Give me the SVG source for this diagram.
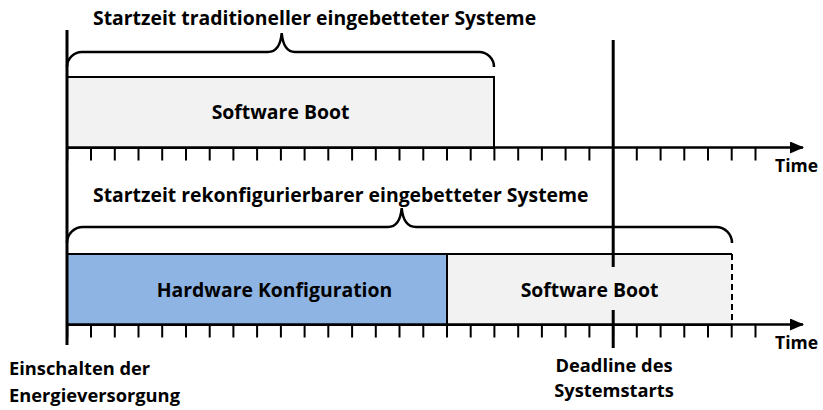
<svg xmlns="http://www.w3.org/2000/svg" width="823" height="410" viewBox="0 0 823 410">
  <defs>
    <style>
      .t { font-family: "Open Sans", Lato, "Liberation Sans", sans-serif; font-weight: bold; font-size: 19.4px; fill: #000; }
      .small { font-size: 17.5px; }
      .lbl { font-size: 18.3px; }
      .mid { text-anchor: middle; }
      .box { stroke: #000; stroke-width: 2; }
      .sw { fill: #f2f2f2; }
      .hw { fill: #8eb4e3; }
      .axis { stroke: #000; stroke-width: 2.5; fill: none; }
      .tick { stroke: #000; stroke-width: 2; }
      .brace { stroke: #000; stroke-width: 2.5; fill: none; }
      .mark { stroke: #000; stroke-width: 3; fill: none; }
    </style>
    <marker id="arrow" markerWidth="14" markerHeight="12" refX="13" refY="6" orient="auto" markerUnits="userSpaceOnUse">
      <path d="M0,0 L14,6 L0,12 Z" fill="#000"/>
    </marker>
    <!-- 30 tick marks, 23.73 px apart -->
    <g id="ticks">
      <path class="tick" d="M67.3,0v13 M91,0v13 M114.8,0v13 M138.5,0v13 M162.2,0v13 M186,0v13 M209.7,0v13 M233.4,0v13 M257.1,0v13 M280.9,0v13 M304.6,0v13 M328.3,0v13 M352.1,0v13 M375.8,0v13 M399.5,0v13 M423.3,0v13 M447,0v13 M470.7,0v13 M494.4,0v13 M518.2,0v13 M541.9,0v13 M565.6,0v13 M589.4,0v13 M613.1,0v13 M636.8,0v13 M660.6,0v13 M684.3,0v13 M708,0v13 M731.7,0v13 M755.5,0v13"/>
    </g>
  </defs>

  <!-- boxes -->
  <g id="sw-boot-traditional">
    <rect class="box sw" x="67" y="77" width="427" height="71"/>
    <text class="t mid" x="280.5" y="119">Software Boot</text>
  </g>
  <g id="hw-config">
    <rect class="box hw" x="67" y="254" width="380" height="71"/>
    <text class="t mid" x="274.5" y="297">Hardware Konfiguration</text>
  </g>
  <g id="sw-boot-reconfig">
    <path class="sw" d="M447,254 H732 V325 H447 Z"/>
    <path class="box" fill="none" d="M732,325 H447 V254 H732"/>
    <path class="box" fill="none" stroke-dasharray="6,4" d="M732,254 V325"/>
    <text class="t mid" x="589.5" y="297">Software Boot</text>
  </g>

  <!-- braces with titles -->
  <g id="brace-traditional">
    <path class="brace" d="M67,67 A15,15 0 0 1 82,52 L268,52 Q280,52 281.7,33 Q283.4,52 295,52 L479,52 A15,15 0 0 1 494,67"/>
    <text class="t" x="93" y="25">Startzeit traditioneller eingebetteter Systeme</text>
  </g>
  <g id="brace-reconfig">
    <path class="brace" d="M67,243 A16,16 0 0 1 83,227 L388,227 Q400,227 401.7,208 Q403.4,227 416,227 L716,227 A16,16 0 0 1 732,243"/>
    <text class="t" x="93" y="202">Startzeit rekonfigurierbarer eingebetteter Systeme</text>
  </g>

  <!-- time axes, start line and deadline -->
  <g id="connectors">
    <path class="axis" d="M67,147.5 H803" marker-end="url(#arrow)"/>
    <use href="#ticks" transform="translate(0,147.5)"/>
    <path class="axis" d="M67,324.5 H803" marker-end="url(#arrow)"/>
    <use href="#ticks" transform="translate(0,324.5)"/>
    <path class="mark" d="M67,30 V345"/>
    <path class="mark" d="M613.2,40 V267 M613.2,310 V348"/>
  </g>

  <!-- labels -->
  <g id="labels">
    <text class="t small" x="775" y="172">Time</text>
    <text class="t small" x="775" y="349">Time</text>
    <text class="t lbl" x="9" y="375">Einschalten der</text>
    <text class="t lbl" x="9" y="402">Energieversorgung</text>
    <text class="t lbl mid" x="614" y="372">Deadline des</text>
    <text class="t lbl mid" x="614" y="397">Systemstarts</text>
  </g>
</svg>
